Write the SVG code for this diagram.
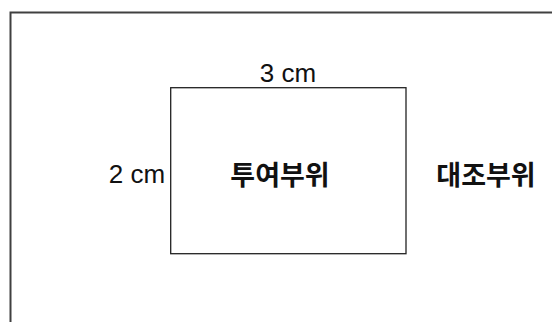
<svg xmlns="http://www.w3.org/2000/svg" width="552" height="322" viewBox="0 0 552 322">
<style>
.frame{fill:none;stroke:#404040;stroke-width:2}
.box{fill:#fff;stroke:#222;stroke-width:1.3}
.dim{font-family:"Liberation Sans","DejaVu Sans",sans-serif;font-size:26px;fill:#111}
.lbl{font-family:"Noto Sans CJK KR","Noto Sans",sans-serif;font-size:27px;font-weight:bold;fill:#111}
</style>
<rect width="552" height="322" fill="#fff"/>
<g id="frame">
<path class="frame" d="M10.5,322 V12.5 H552"/>
</g>
<g id="connectors"></g>
<g id="injection-site">
<rect class="box" x="170.7" y="87.7" width="235.3" height="166"/>
<text class="lbl" x="280" y="185" text-anchor="middle">투여부위</text>
</g>
<g id="width-label">
<text class="dim" x="288" y="82" text-anchor="middle">3 cm</text>
</g>
<g id="height-label">
<text class="dim" x="137" y="183" text-anchor="middle">2 cm</text>
</g>
<g id="control-site">
<text class="lbl" x="486" y="185" text-anchor="middle">대조부위</text>
</g>
</svg>
